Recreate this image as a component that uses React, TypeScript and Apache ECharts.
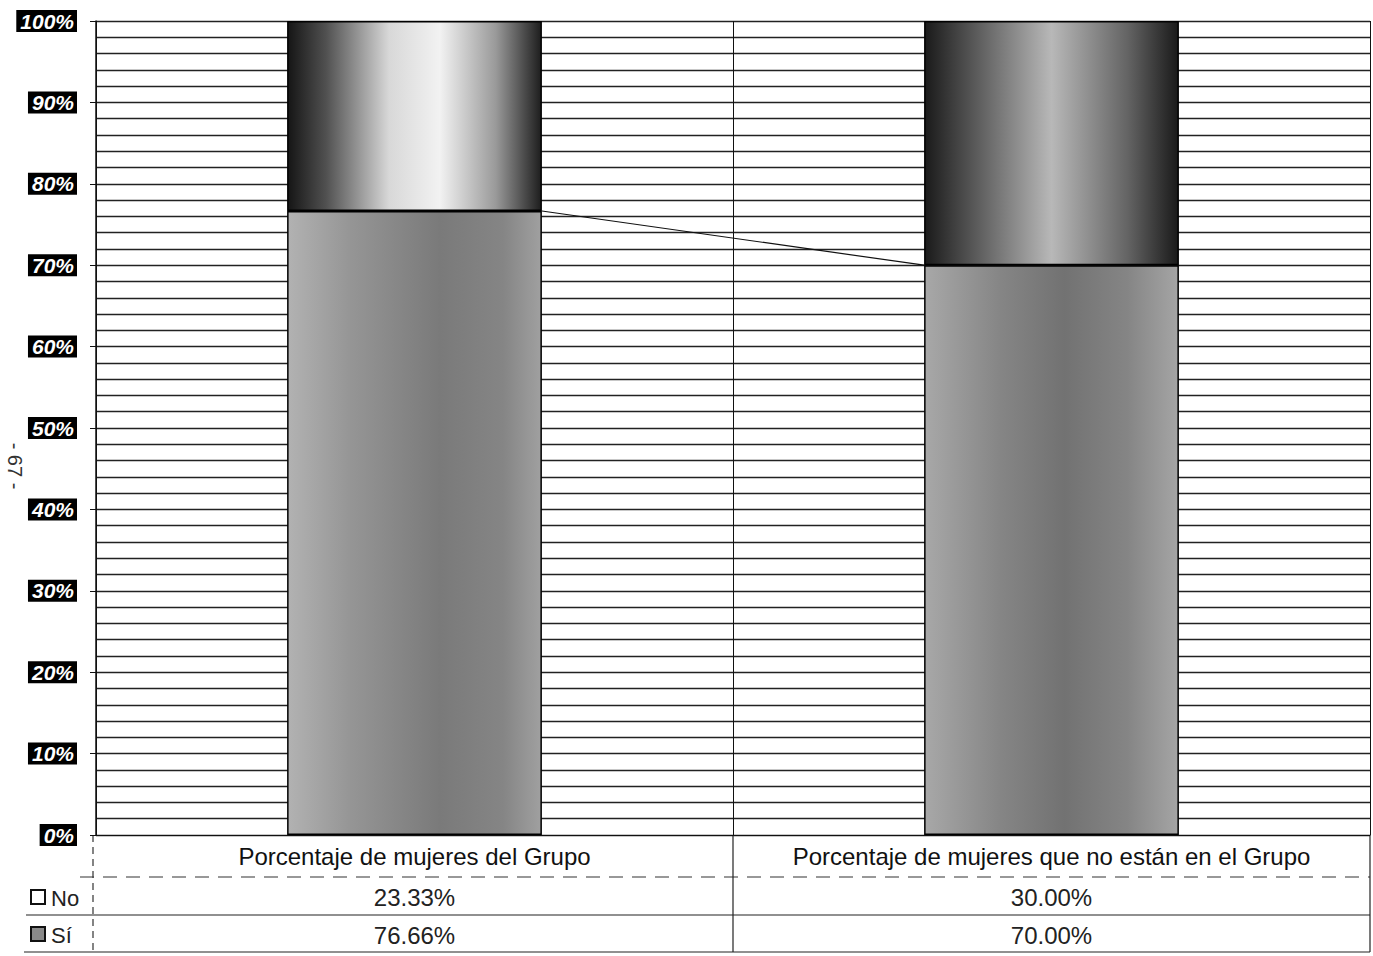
import React, { useEffect, useRef } from "react";
import * as echarts from "echarts";

const categories = [
  "Porcentaje de mujeres del Grupo",
  "Porcentaje de mujeres que no están en el Grupo",
];
const seriesNames = ["No", "Sí"];
const siValues = [76.66, 70.0];
const noValues = [23.33, 30.0];
const yTickStep = 10;

const fmtPct = (v: number) => v.toFixed(2) + "%";

const W = 1373;
const H = 956;
const GL = 96;
const GR = 1370;
const GT = 21;
const GB = 835;
const TABLE_BOTTOM = 952;
const FONT = "'Liberation Sans', Arial, Helvetica, sans-serif";

const siColors = [
  new echarts.graphic.LinearGradient(0, 0, 1, 0, [
    { offset: 0, color: "#b2b2b2" },
    { offset: 0.25, color: "#959595" },
    { offset: 0.6, color: "#7a7a7a" },
    { offset: 0.85, color: "#858585" },
    { offset: 1, color: "#a0a0a0" },
  ]),
  new echarts.graphic.LinearGradient(0, 0, 1, 0, [
    { offset: 0, color: "#a8a8a8" },
    { offset: 0.3, color: "#858585" },
    { offset: 0.55, color: "#727272" },
    { offset: 0.8, color: "#858585" },
    { offset: 1, color: "#a5a5a5" },
  ]),
];
const noColors = [
  new echarts.graphic.LinearGradient(0, 0, 1, 0, [
    { offset: 0, color: "#151515" },
    { offset: 0.15, color: "#505050" },
    { offset: 0.4, color: "#d8d8d8" },
    { offset: 0.6, color: "#f2f2f2" },
    { offset: 0.82, color: "#9a9a9a" },
    { offset: 1, color: "#1e1e1e" },
  ]),
  new echarts.graphic.LinearGradient(0, 0, 1, 0, [
    { offset: 0, color: "#1a1a1a" },
    { offset: 0.2, color: "#5a5a5a" },
    { offset: 0.5, color: "#b8b8b8" },
    { offset: 0.8, color: "#646464" },
    { offset: 1, color: "#1a1a1a" },
  ]),
];

export default function App() {
  const ref = useRef<HTMLDivElement>(null);

  useEffect(() => {
    if (!ref.current) return;
    const chart = echarts.init(ref.current, undefined, { renderer: "svg" });

    const lineStroke = "#222";
    const midX = GL + (GR - GL) / 2;

    const option: any = {
      animation: false,
      backgroundColor: "#ffffff",
      grid: { left: GL, right: W - GR, top: GT, bottom: H - GB, containLabel: false },
      xAxis: {
        type: "category",
        data: categories,
        axisLine: { show: true, lineStyle: { color: "#111", width: 1 } },
        axisTick: { show: false },
        splitLine: { show: true, lineStyle: { color: "#111", width: 1 } },
        axisLabel: {
          interval: 0,
          margin: 0,
          formatter: (v: string, i: number) =>
            `{a|${v}}\n{b|${fmtPct(noValues[i])}}\n{c|${fmtPct(siValues[i])}}`,
          rich: {
            a: { fontSize: 24, lineHeight: 42, color: "#111", fontFamily: FONT },
            b: { fontSize: 24, lineHeight: 40, color: "#222", fontFamily: FONT },
            c: { fontSize: 24, lineHeight: 36, color: "#222", fontFamily: FONT },
          },
        },
      },
      yAxis: {
        type: "value",
        min: 0,
        max: 100,
        interval: yTickStep,
        axisLine: { show: true, lineStyle: { color: "#111", width: 1.5 } },
        axisTick: { show: true, length: 6, lineStyle: { color: "#111" } },
        axisLabel: {
          formatter: "{value}%",
          color: "#ffffff",
          backgroundColor: "#000000",
          fontFamily: FONT,
          fontWeight: "bold",
          fontStyle: "italic",
          fontSize: 21,
          lineHeight: 21,
          padding: [1, 3, 0, 4],
          margin: 19,
        },
        splitLine: { show: true, lineStyle: { color: lineStroke, width: 1.3 } },
        minorTick: { show: true, splitNumber: 5, length: 0 },
        minorSplitLine: { show: true, lineStyle: { color: lineStroke, width: 1.3 } },
      },
      series: [
        {
          name: seriesNames[1],
          type: "bar",
          stack: "total",
          barWidth: "40%",
          data: siValues.map((v, i) => ({ value: v, itemStyle: { color: siColors[i] } })),
          itemStyle: { borderColor: "#000", borderWidth: 1.5 },
          z: 3,
        },
        {
          name: seriesNames[0],
          type: "bar",
          stack: "total",
          barWidth: "40%",
          data: noValues.map((v, i) => ({ value: v, itemStyle: { color: noColors[i] } })),
          itemStyle: { borderColor: "#000", borderWidth: 1.5 },
          z: 3,
        },
        {
          type: "custom",
          silent: true,
          z: 4,
          data: siValues.map((v, i) => [i, v]),
          renderItem: (params: any, api: any) => {
            const i = params.dataIndex;
            if (i >= siValues.length - 1) return { type: "group", children: [] };
            const p1 = api.coord([i, siValues[i]]);
            const p2 = api.coord([i + 1, siValues[i + 1]]);
            const half = (api.size([1, 0])[0] * 0.4) / 2;
            return {
              type: "line",
              shape: { x1: p1[0] + half, y1: p1[1], x2: p2[0] - half, y2: p2[1] },
              style: { stroke: "#111", lineWidth: 1.2 },
            };
          },
        },
      ],
      graphic: [
        {
          type: "line",
          shape: { x1: 80, y1: 877, x2: GR, y2: 877 },
          style: { stroke: "#333", lineWidth: 1.2, lineDash: [14, 9] },
        },
        {
          type: "line",
          shape: { x1: 26, y1: 915, x2: GR, y2: 915 },
          style: { stroke: "#222", lineWidth: 1.2 },
        },
        {
          type: "line",
          shape: { x1: 24, y1: TABLE_BOTTOM, x2: GR, y2: TABLE_BOTTOM },
          style: { stroke: "#222", lineWidth: 1.2 },
        },
        {
          type: "line",
          shape: { x1: 93, y1: GB, x2: 93, y2: TABLE_BOTTOM },
          style: { stroke: "#333", lineWidth: 1.2, lineDash: [7, 5] },
        },
        {
          type: "line",
          shape: { x1: midX, y1: GB, x2: midX, y2: TABLE_BOTTOM },
          style: { stroke: "#222", lineWidth: 1.2 },
        },
        {
          type: "line",
          shape: { x1: GR, y1: GB, x2: GR, y2: TABLE_BOTTOM },
          style: { stroke: "#222", lineWidth: 1.2 },
        },
        {
          type: "rect",
          shape: { x: 31, y: 890, width: 14, height: 14 },
          style: { fill: "#ffffff", stroke: "#111", lineWidth: 2 },
        },
        {
          type: "rect",
          shape: { x: 31, y: 927, width: 14, height: 14 },
          style: { fill: "#8a8a8a", stroke: "#111", lineWidth: 2 },
        },
        {
          type: "text",
          x: 51,
          y: 898,
          style: {
            text: seriesNames[0],
            font: `22px ${FONT}`,
            fill: "#222",
            verticalAlign: "middle",
            align: "left",
          },
        },
        {
          type: "text",
          x: 51,
          y: 935,
          style: {
            text: seriesNames[1],
            font: `22px ${FONT}`,
            fill: "#222",
            verticalAlign: "middle",
            align: "left",
          },
        },
        {
          type: "text",
          x: 15,
          y: 466,
          rotation: -Math.PI / 2,
          style: {
            text: "- 67 -",
            font: `20px ${FONT}`,
            fill: "#333",
            align: "center",
            verticalAlign: "middle",
          },
        },
      ],
    };

    chart.setOption(option);
    return () => chart.dispose();
  }, []);

  return (
    <div
      ref={ref}
      style={{ position: "fixed", left: 0, top: 0, width: W, height: H, background: "#fff" }}
    />
  );
}
